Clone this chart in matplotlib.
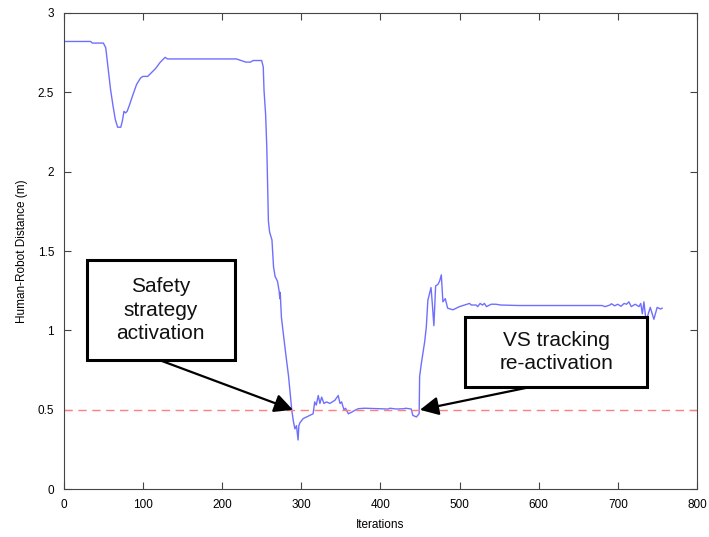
import matplotlib
matplotlib.use('Agg')
import matplotlib.pyplot as plt
from matplotlib.patches import Rectangle
import numpy as np

plt.rcParams['font.family'] = ['Liberation Sans', 'DejaVu Sans']

# human-robot distance
iters = [0, 34, 36, 50, 53, 56, 59, 62, 65, 68, 72, 74, 76, 78, 80, 83, 87, 92,
         97, 100, 106, 110, 116, 122, 128, 131, 160, 190, 218, 224, 230, 236,
         239, 250, 252, 253, 255, 256.5, 258.5, 260, 263, 265, 267, 270, 272,
         273, 273.5, 274, 275, 280, 284, 288, 290, 292, 294, 296, 297, 298.5,
         302.5, 311, 315, 317, 319, 321.5, 323.6, 325.8, 328.7, 332, 336,
         342.5, 346.7, 349, 351, 354, 356, 359.5, 363.6, 367.8, 372, 380, 400,
         410, 412, 420, 430, 432, 439, 441, 445.5, 449, 449.6, 451.7, 456, 458,
         460, 462, 464, 465.6, 467.6, 469.8, 472.7, 474.8, 477, 479, 482, 485,
         491.6, 500, 512.6, 515, 521, 523, 526, 529, 531.5, 534, 540, 546, 552,
         575, 680, 684, 690, 692, 696, 700, 704, 708, 711, 714, 717, 722,
         726.7, 729, 731, 733, 735, 737, 741, 745.6, 749.7, 754, 756]
dist = [2.82, 2.82, 2.81, 2.81, 2.78, 2.65, 2.52, 2.42, 2.33, 2.28, 2.28, 2.32,
        2.38, 2.37, 2.38, 2.42, 2.48, 2.55, 2.59, 2.60, 2.60, 2.62, 2.65, 2.69,
        2.72, 2.71, 2.71, 2.71, 2.71, 2.70, 2.69, 2.69, 2.70, 2.70, 2.66, 2.51,
        2.36, 2.15, 1.69, 1.62, 1.57, 1.40, 1.34, 1.31, 1.25, 1.20, 1.24, 1.18,
        1.08, 0.87, 0.71, 0.50, 0.43, 0.38, 0.40, 0.31, 0.40, 0.42, 0.445,
        0.465, 0.475, 0.55, 0.53, 0.59, 0.54, 0.58, 0.54, 0.55, 0.54, 0.56,
        0.59, 0.54, 0.55, 0.50, 0.51, 0.475, 0.485, 0.497, 0.507, 0.51, 0.507,
        0.505, 0.51, 0.505, 0.507, 0.51, 0.505, 0.465, 0.455, 0.476, 0.71,
        0.79, 0.93, 1.02, 1.19, 1.23, 1.27, 1.17, 1.03, 1.28, 1.29, 1.31, 1.35,
        1.18, 1.20, 1.14, 1.13, 1.15, 1.17, 1.16, 1.16, 1.15, 1.17, 1.16, 1.17,
        1.15, 1.165, 1.165, 1.16, 1.157, 1.157, 1.15, 1.16, 1.168, 1.155,
        1.165, 1.152, 1.17, 1.165, 1.18, 1.15, 1.165, 1.15, 1.17, 1.105, 1.18,
        1.09, 1.08, 1.145, 1.07, 1.145, 1.135, 1.14]
safety_threshold = 0.5

fig = plt.figure(figsize=(7.09, 5.37), dpi=100)
ax = fig.add_axes([0.09, 0.089, 0.893, 0.887])

ax.plot(iters, dist, color='#6f6fff', lw=1.0)
ax.axhline(safety_threshold, color='#ff7f7f', lw=1.0, ls=(0, (6, 4)))

ax.set_xlim(0, 800)
ax.set_ylim(0, 3)
ax.set_xticks(np.arange(0, 801, 100))
ax.set_yticks(np.arange(0, 3.01, 0.5))
ax.set_yticklabels(['0', '0.5', '1', '1.5', '2', '2.5', '3'])
ax.tick_params(direction='in', top=True, right=True, length=5, labelsize=8.5,
               color='#444444', pad=7)
for s in ax.spines.values():
    s.set_color('#444444')
ax.set_xlabel('Iterations', fontsize=8.5, labelpad=6)
ax.set_ylabel('Human-Robot Distance (m)', fontsize=8.5, labelpad=7)

# annotation boxes
ax.add_patch(Rectangle((29, 0.813), 187, 0.63, fill=True, fc='white',
                       ec='black', lw=2.2, zorder=5))
ax.text(122.5, 1.128, 'Safety\nstrategy\nactivation', ha='center', va='center',
        fontsize=15, linespacing=1.3, zorder=6, color='#111111')
ax.annotate('', xy=(289.5, 0.5), xytext=(121, 0.813),
            arrowprops=dict(arrowstyle='-|>', mutation_scale=28, lw=1.6,
                            color='black', shrinkA=0, shrinkB=0), zorder=6)

ax.add_patch(Rectangle((507, 0.643), 230, 0.441, fill=True, fc='white',
                       ec='black', lw=2.2, zorder=5))
ax.text(622, 0.863, 'VS tracking\nre-activation', ha='center', va='center',
        fontsize=15, linespacing=1.3, zorder=6, color='#111111')
ax.annotate('', xy=(450, 0.5), xytext=(589, 0.643),
            arrowprops=dict(arrowstyle='-|>', mutation_scale=28, lw=1.6,
                            color='black', shrinkA=0, shrinkB=0), zorder=6)

fig.savefig('out.png', dpi=100)
